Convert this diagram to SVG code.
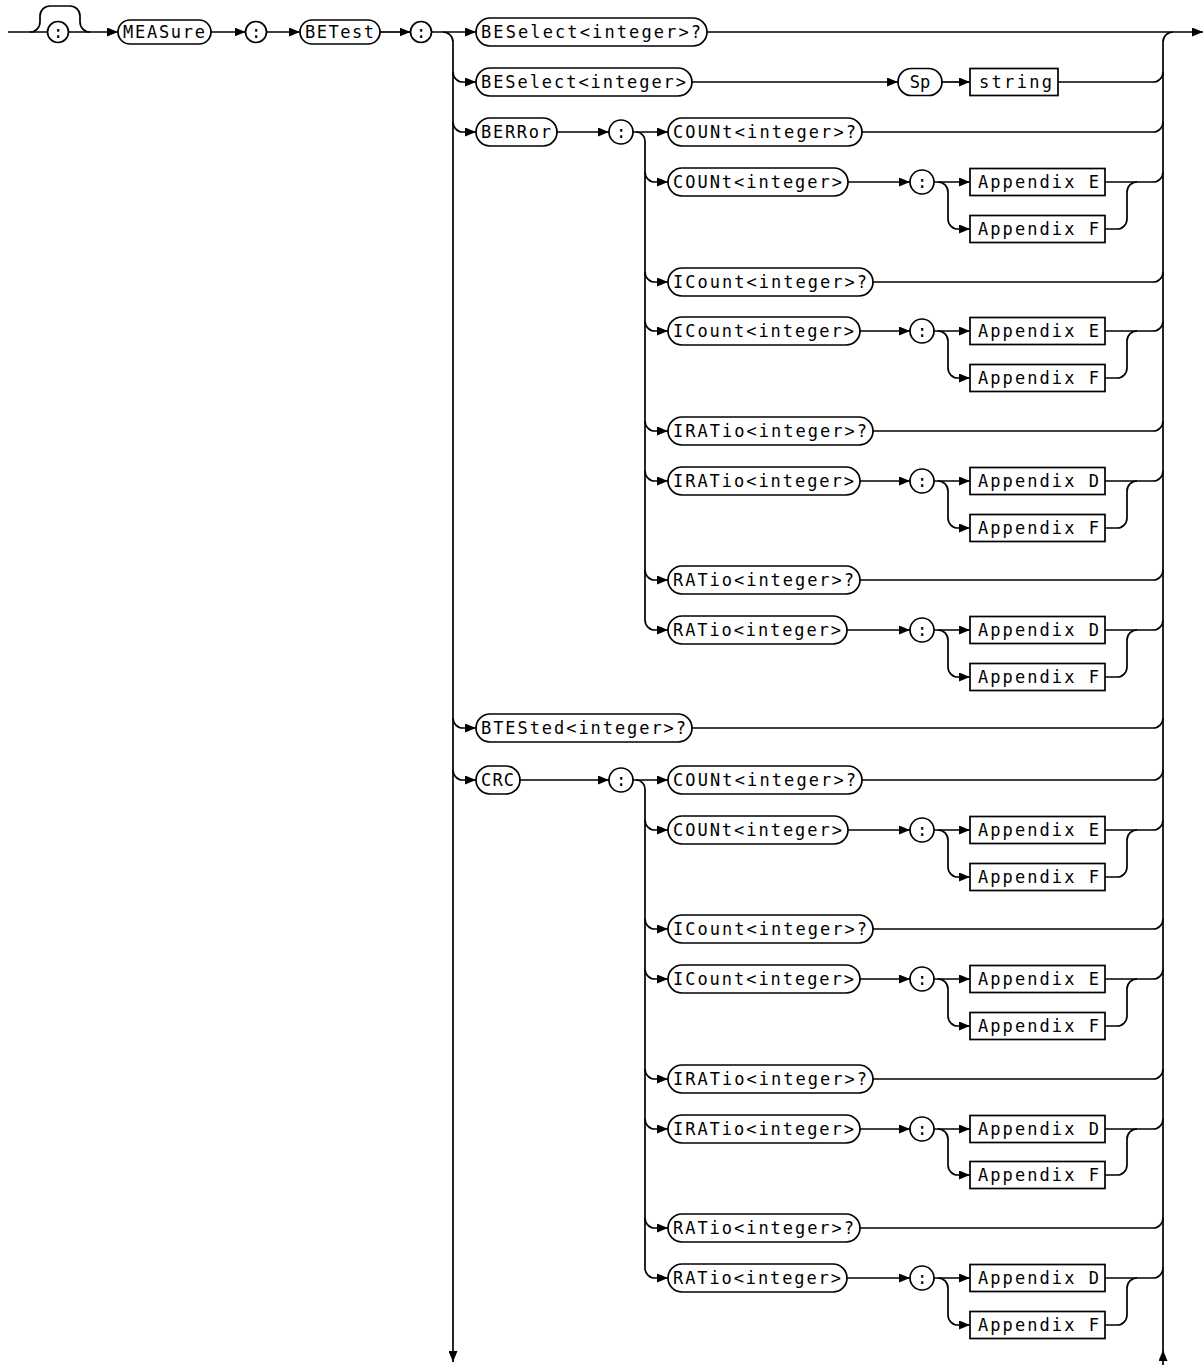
<svg xmlns="http://www.w3.org/2000/svg" width="1204" height="1365" viewBox="0 0 1204 1365">
<style>
.ln{fill:none;stroke:#000;stroke-width:1.7}
.a{marker-end:url(#ah)}
.sh{fill:#fff;stroke:#000;stroke-width:1.7}
.t{font-family:"DejaVu Sans Mono","Liberation Mono",monospace;font-size:17px;fill:#000}
.c{text-anchor:middle}
</style>
<defs>
<marker id="ah" markerUnits="userSpaceOnUse" markerWidth="11" markerHeight="9" viewBox="0 0 11 9" refX="11" refY="4.5" orient="auto"><path d="M0,0 L11,4.5 L0,9 z" fill="#000"/></marker>
</defs>
<rect width="1204" height="1365" fill="#fff"/>
<g id="connectors">
<path class="ln" d="M8 32 H48"/>
<path class="ln" d="M30 32 A10 10 0 0 0 40 22 V16 A10 10 0 0 1 50 6 H70 A10 10 0 0 1 80 16 V22 A10 10 0 0 0 90 32"/>
<path class="ln a" d="M68.5 32 H118"/>
<path class="ln a" d="M211 32 H245.5"/>
<path class="ln a" d="M266.5 32 H300"/>
<path class="ln a" d="M380 32 H410.5"/>
<path class="ln a" d="M431.5 32 H476"/>
<path class="ln a" d="M707 32 H1203"/>
<path class="ln a" d="M443 32 A10 10 0 0 1 453 42 V1362"/>
<path class="ln a" d="M453 72 A10 10 0 0 0 463 82 H476"/>
<path class="ln a" d="M453 122 A10 10 0 0 0 463 132 H476"/>
<path class="ln a" d="M453 718 A10 10 0 0 0 463 728 H476"/>
<path class="ln a" d="M453 770 A10 10 0 0 0 463 780 H476"/>
<path class="ln a" d="M1163 1365 V1350"/>
<path class="ln" d="M1163 1350 V42 A10 10 0 0 1 1173 32"/>
<path class="ln a" d="M692 82 H898"/>
<path class="ln a" d="M942 82 H970"/>
<path class="ln" d="M1058 82 H1153 A10 10 0 0 0 1163 72"/>
<path class="ln" d="M692 728 H1153 A10 10 0 0 0 1163 718"/>
<path class="ln a" d="M557 132 H609"/>
<path class="ln a" d="M633 132 H668"/>
<path class="ln" d="M636 132 A9 9 0 0 1 645 141 V620"/>
<path class="ln a" d="M645 172 A10 10 0 0 0 655 182 H668"/>
<path class="ln a" d="M645 272 A10 10 0 0 0 655 282 H668"/>
<path class="ln a" d="M645 321 A10 10 0 0 0 655 331 H668"/>
<path class="ln a" d="M645 421 A10 10 0 0 0 655 431 H668"/>
<path class="ln a" d="M645 471 A10 10 0 0 0 655 481 H668"/>
<path class="ln a" d="M645 570 A10 10 0 0 0 655 580 H668"/>
<path class="ln a" d="M645 620 A10 10 0 0 0 655 630 H668"/>
<path class="ln" d="M862 132 H1153 A10 10 0 0 0 1163 122"/>
<path class="ln" d="M873 282 H1153 A10 10 0 0 0 1163 272"/>
<path class="ln" d="M873 431 H1153 A10 10 0 0 0 1163 421"/>
<path class="ln" d="M860 580 H1153 A10 10 0 0 0 1163 570"/>
<path class="ln a" d="M848 182 H910"/>
<path class="ln a" d="M860 331 H910"/>
<path class="ln a" d="M860 481 H910"/>
<path class="ln a" d="M847 630 H910"/>
<path class="ln a" d="M520 780 H609"/>
<path class="ln a" d="M633 780 H668"/>
<path class="ln" d="M636 780 A9 9 0 0 1 645 789 V1268"/>
<path class="ln a" d="M645 820 A10 10 0 0 0 655 830 H668"/>
<path class="ln a" d="M645 919 A10 10 0 0 0 655 929 H668"/>
<path class="ln a" d="M645 969 A10 10 0 0 0 655 979 H668"/>
<path class="ln a" d="M645 1069 A10 10 0 0 0 655 1079 H668"/>
<path class="ln a" d="M645 1119 A10 10 0 0 0 655 1129 H668"/>
<path class="ln a" d="M645 1218 A10 10 0 0 0 655 1228 H668"/>
<path class="ln a" d="M645 1268 A10 10 0 0 0 655 1278 H668"/>
<path class="ln" d="M862 780 H1153 A10 10 0 0 0 1163 770"/>
<path class="ln" d="M873 929 H1153 A10 10 0 0 0 1163 919"/>
<path class="ln" d="M873 1079 H1153 A10 10 0 0 0 1163 1069"/>
<path class="ln" d="M860 1228 H1153 A10 10 0 0 0 1163 1218"/>
<path class="ln a" d="M848 830 H910"/>
<path class="ln a" d="M860 979 H910"/>
<path class="ln a" d="M860 1129 H910"/>
<path class="ln a" d="M847 1278 H910"/>
<path class="ln a" d="M934 182 H970"/><path class="ln a" d="M938 182 A10 10 0 0 1 948 192 V219 A10 10 0 0 0 958 229 H970"/>
<path class="ln" d="M1105 182 H1153 A10 10 0 0 0 1163 172"/><path class="ln" d="M1105 229 H1117 A10 10 0 0 0 1127 219 V192 A10 10 0 0 1 1137 182"/>
<path class="ln a" d="M934 331 H970"/><path class="ln a" d="M938 331 A10 10 0 0 1 948 341 V368 A10 10 0 0 0 958 378 H970"/>
<path class="ln" d="M1105 331 H1153 A10 10 0 0 0 1163 321"/><path class="ln" d="M1105 378 H1117 A10 10 0 0 0 1127 368 V341 A10 10 0 0 1 1137 331"/>
<path class="ln a" d="M934 481 H970"/><path class="ln a" d="M938 481 A10 10 0 0 1 948 491 V518 A10 10 0 0 0 958 528 H970"/>
<path class="ln" d="M1105 481 H1153 A10 10 0 0 0 1163 471"/><path class="ln" d="M1105 528 H1117 A10 10 0 0 0 1127 518 V491 A10 10 0 0 1 1137 481"/>
<path class="ln a" d="M934 630 H970"/><path class="ln a" d="M938 630 A10 10 0 0 1 948 640 V667 A10 10 0 0 0 958 677 H970"/>
<path class="ln" d="M1105 630 H1153 A10 10 0 0 0 1163 620"/><path class="ln" d="M1105 677 H1117 A10 10 0 0 0 1127 667 V640 A10 10 0 0 1 1137 630"/>
<path class="ln a" d="M934 830 H970"/><path class="ln a" d="M938 830 A10 10 0 0 1 948 840 V867 A10 10 0 0 0 958 877 H970"/>
<path class="ln" d="M1105 830 H1153 A10 10 0 0 0 1163 820"/><path class="ln" d="M1105 877 H1117 A10 10 0 0 0 1127 867 V840 A10 10 0 0 1 1137 830"/>
<path class="ln a" d="M934 979 H970"/><path class="ln a" d="M938 979 A10 10 0 0 1 948 989 V1016 A10 10 0 0 0 958 1026 H970"/>
<path class="ln" d="M1105 979 H1153 A10 10 0 0 0 1163 969"/><path class="ln" d="M1105 1026 H1117 A10 10 0 0 0 1127 1016 V989 A10 10 0 0 1 1137 979"/>
<path class="ln a" d="M934 1129 H970"/><path class="ln a" d="M938 1129 A10 10 0 0 1 948 1139 V1165 A10 10 0 0 0 958 1175 H970"/>
<path class="ln" d="M1105 1129 H1153 A10 10 0 0 0 1163 1119"/><path class="ln" d="M1105 1175 H1117 A10 10 0 0 0 1127 1165 V1139 A10 10 0 0 1 1137 1129"/>
<path class="ln a" d="M934 1278 H970"/><path class="ln a" d="M938 1278 A10 10 0 0 1 948 1288 V1315 A10 10 0 0 0 958 1325 H970"/>
<path class="ln" d="M1105 1278 H1153 A10 10 0 0 0 1163 1268"/><path class="ln" d="M1105 1325 H1117 A10 10 0 0 0 1127 1315 V1288 A10 10 0 0 1 1137 1278"/>
</g>
<g id="n-colon0"><circle class="sh" cx="58" cy="32" r="10.5"/><text class="t c" x="58" y="38">:</text></g>
<g id="n-measure"><rect class="sh" x="118" y="20" width="93" height="24" rx="12"/><text class="t" x="123" y="38" textLength="82" lengthAdjust="spacing">MEASure</text></g>
<g id="n-colon1"><circle class="sh" cx="256" cy="32" r="10.5"/><text class="t c" x="256" y="38">:</text></g>
<g id="n-betest"><rect class="sh" x="300" y="20" width="80" height="24" rx="12"/><text class="t" x="305" y="38" textLength="69" lengthAdjust="spacing">BETest</text></g>
<g id="n-colon2"><circle class="sh" cx="421" cy="32" r="10.5"/><text class="t c" x="421" y="38">:</text></g>
<g id="n-beselect-q"><rect class="sh" x="476" y="18" width="231" height="28" rx="14"/><text class="t" x="481" y="38" textLength="220" lengthAdjust="spacing">BESelect&lt;integer&gt;?</text></g>
<g id="n-beselect"><rect class="sh" x="476" y="68" width="216" height="28" rx="14"/><text class="t" x="481" y="88" textLength="205" lengthAdjust="spacing">BESelect&lt;integer&gt;</text></g>
<g id="n-sp"><rect class="sh" x="898" y="68.5" width="44" height="27" rx="13.5"/><text class="t c" x="920" y="88">Sp</text></g>
<g id="n-string"><rect class="sh" x="970" y="68.5" width="88" height="27"/><text class="t" x="979" y="88" textLength="73" lengthAdjust="spacing">string</text></g>
<g id="n-berror"><rect class="sh" x="476" y="118" width="81" height="28" rx="14"/><text class="t" x="481" y="138" textLength="70" lengthAdjust="spacing">BERRor</text></g>
<g id="n-berror-colon"><circle class="sh" cx="621" cy="132" r="12"/><text class="t c" x="621" y="138">:</text></g>
<g id="n-btested-q"><rect class="sh" x="476" y="714" width="216" height="28" rx="14"/><text class="t" x="481" y="734" textLength="205" lengthAdjust="spacing">BTESted&lt;integer&gt;?</text></g>
<g id="n-crc"><rect class="sh" x="476" y="766" width="44" height="28" rx="14"/><text class="t" x="481" y="786" textLength="33" lengthAdjust="spacing">CRC</text></g>
<g id="n-crc-colon"><circle class="sh" cx="621" cy="780" r="12"/><text class="t c" x="621" y="786">:</text></g>
<g id="n-be-count-q"><rect class="sh" x="668" y="118" width="194" height="28" rx="14"/><text class="t" x="673" y="138" textLength="183" lengthAdjust="spacing">COUNt&lt;integer&gt;?</text></g>
<g id="n-be-count"><rect class="sh" x="668" y="168" width="180" height="28" rx="14"/><text class="t" x="673" y="188" textLength="169" lengthAdjust="spacing">COUNt&lt;integer&gt;</text></g>
<g id="n-be-count-colon"><circle class="sh" cx="922" cy="182" r="12"/><text class="t c" x="922" y="188">:</text></g>
<g id="n-be-count-e"><rect class="sh" x="970" y="168.5" width="135" height="27"/><text class="t" x="978" y="188" textLength="121" lengthAdjust="spacing">Appendix E</text></g>
<g id="n-be-count-f"><rect class="sh" x="970" y="215.5" width="135" height="27"/><text class="t" x="978" y="235" textLength="121" lengthAdjust="spacing">Appendix F</text></g>
<g id="n-be-icount-q"><rect class="sh" x="668" y="268" width="205" height="28" rx="14"/><text class="t" x="673" y="288" textLength="194" lengthAdjust="spacing">ICount&lt;integer&gt;?</text></g>
<g id="n-be-icount"><rect class="sh" x="668" y="317" width="192" height="28" rx="14"/><text class="t" x="673" y="337" textLength="181" lengthAdjust="spacing">ICount&lt;integer&gt;</text></g>
<g id="n-be-icount-colon"><circle class="sh" cx="922" cy="331" r="12"/><text class="t c" x="922" y="337">:</text></g>
<g id="n-be-icount-e"><rect class="sh" x="970" y="317.5" width="135" height="27"/><text class="t" x="978" y="337" textLength="121" lengthAdjust="spacing">Appendix E</text></g>
<g id="n-be-icount-f"><rect class="sh" x="970" y="364.5" width="135" height="27"/><text class="t" x="978" y="384" textLength="121" lengthAdjust="spacing">Appendix F</text></g>
<g id="n-be-iratio-q"><rect class="sh" x="668" y="417" width="205" height="28" rx="14"/><text class="t" x="673" y="437" textLength="194" lengthAdjust="spacing">IRATio&lt;integer&gt;?</text></g>
<g id="n-be-iratio"><rect class="sh" x="668" y="467" width="192" height="28" rx="14"/><text class="t" x="673" y="487" textLength="181" lengthAdjust="spacing">IRATio&lt;integer&gt;</text></g>
<g id="n-be-iratio-colon"><circle class="sh" cx="922" cy="481" r="12"/><text class="t c" x="922" y="487">:</text></g>
<g id="n-be-iratio-d"><rect class="sh" x="970" y="467.5" width="135" height="27"/><text class="t" x="978" y="487" textLength="121" lengthAdjust="spacing">Appendix D</text></g>
<g id="n-be-iratio-f"><rect class="sh" x="970" y="514.5" width="135" height="27"/><text class="t" x="978" y="534" textLength="121" lengthAdjust="spacing">Appendix F</text></g>
<g id="n-be-ratio-q"><rect class="sh" x="668" y="566" width="192" height="28" rx="14"/><text class="t" x="673" y="586" textLength="181" lengthAdjust="spacing">RATio&lt;integer&gt;?</text></g>
<g id="n-be-ratio"><rect class="sh" x="668" y="616" width="179" height="28" rx="14"/><text class="t" x="673" y="636" textLength="168" lengthAdjust="spacing">RATio&lt;integer&gt;</text></g>
<g id="n-be-ratio-colon"><circle class="sh" cx="922" cy="630" r="12"/><text class="t c" x="922" y="636">:</text></g>
<g id="n-be-ratio-d"><rect class="sh" x="970" y="616.5" width="135" height="27"/><text class="t" x="978" y="636" textLength="121" lengthAdjust="spacing">Appendix D</text></g>
<g id="n-be-ratio-f"><rect class="sh" x="970" y="663.5" width="135" height="27"/><text class="t" x="978" y="683" textLength="121" lengthAdjust="spacing">Appendix F</text></g>
<g id="n-crc-count-q"><rect class="sh" x="668" y="766" width="194" height="28" rx="14"/><text class="t" x="673" y="786" textLength="183" lengthAdjust="spacing">COUNt&lt;integer&gt;?</text></g>
<g id="n-crc-count"><rect class="sh" x="668" y="816" width="180" height="28" rx="14"/><text class="t" x="673" y="836" textLength="169" lengthAdjust="spacing">COUNt&lt;integer&gt;</text></g>
<g id="n-crc-count-colon"><circle class="sh" cx="922" cy="830" r="12"/><text class="t c" x="922" y="836">:</text></g>
<g id="n-crc-count-e"><rect class="sh" x="970" y="816.5" width="135" height="27"/><text class="t" x="978" y="836" textLength="121" lengthAdjust="spacing">Appendix E</text></g>
<g id="n-crc-count-f"><rect class="sh" x="970" y="863.5" width="135" height="27"/><text class="t" x="978" y="883" textLength="121" lengthAdjust="spacing">Appendix F</text></g>
<g id="n-crc-icount-q"><rect class="sh" x="668" y="915" width="205" height="28" rx="14"/><text class="t" x="673" y="935" textLength="194" lengthAdjust="spacing">ICount&lt;integer&gt;?</text></g>
<g id="n-crc-icount"><rect class="sh" x="668" y="965" width="192" height="28" rx="14"/><text class="t" x="673" y="985" textLength="181" lengthAdjust="spacing">ICount&lt;integer&gt;</text></g>
<g id="n-crc-icount-colon"><circle class="sh" cx="922" cy="979" r="12"/><text class="t c" x="922" y="985">:</text></g>
<g id="n-crc-icount-e"><rect class="sh" x="970" y="965.5" width="135" height="27"/><text class="t" x="978" y="985" textLength="121" lengthAdjust="spacing">Appendix E</text></g>
<g id="n-crc-icount-f"><rect class="sh" x="970" y="1012.5" width="135" height="27"/><text class="t" x="978" y="1032" textLength="121" lengthAdjust="spacing">Appendix F</text></g>
<g id="n-crc-iratio-q"><rect class="sh" x="668" y="1065" width="205" height="28" rx="14"/><text class="t" x="673" y="1085" textLength="194" lengthAdjust="spacing">IRATio&lt;integer&gt;?</text></g>
<g id="n-crc-iratio"><rect class="sh" x="668" y="1115" width="192" height="28" rx="14"/><text class="t" x="673" y="1135" textLength="181" lengthAdjust="spacing">IRATio&lt;integer&gt;</text></g>
<g id="n-crc-iratio-colon"><circle class="sh" cx="922" cy="1129" r="12"/><text class="t c" x="922" y="1135">:</text></g>
<g id="n-crc-iratio-d"><rect class="sh" x="970" y="1115.5" width="135" height="27"/><text class="t" x="978" y="1135" textLength="121" lengthAdjust="spacing">Appendix D</text></g>
<g id="n-crc-iratio-f"><rect class="sh" x="970" y="1161.5" width="135" height="27"/><text class="t" x="978" y="1181" textLength="121" lengthAdjust="spacing">Appendix F</text></g>
<g id="n-crc-ratio-q"><rect class="sh" x="668" y="1214" width="192" height="28" rx="14"/><text class="t" x="673" y="1234" textLength="181" lengthAdjust="spacing">RATio&lt;integer&gt;?</text></g>
<g id="n-crc-ratio"><rect class="sh" x="668" y="1264" width="179" height="28" rx="14"/><text class="t" x="673" y="1284" textLength="168" lengthAdjust="spacing">RATio&lt;integer&gt;</text></g>
<g id="n-crc-ratio-colon"><circle class="sh" cx="922" cy="1278" r="12"/><text class="t c" x="922" y="1284">:</text></g>
<g id="n-crc-ratio-d"><rect class="sh" x="970" y="1264.5" width="135" height="27"/><text class="t" x="978" y="1284" textLength="121" lengthAdjust="spacing">Appendix D</text></g>
<g id="n-crc-ratio-f"><rect class="sh" x="970" y="1311.5" width="135" height="27"/><text class="t" x="978" y="1331" textLength="121" lengthAdjust="spacing">Appendix F</text></g>
</svg>
